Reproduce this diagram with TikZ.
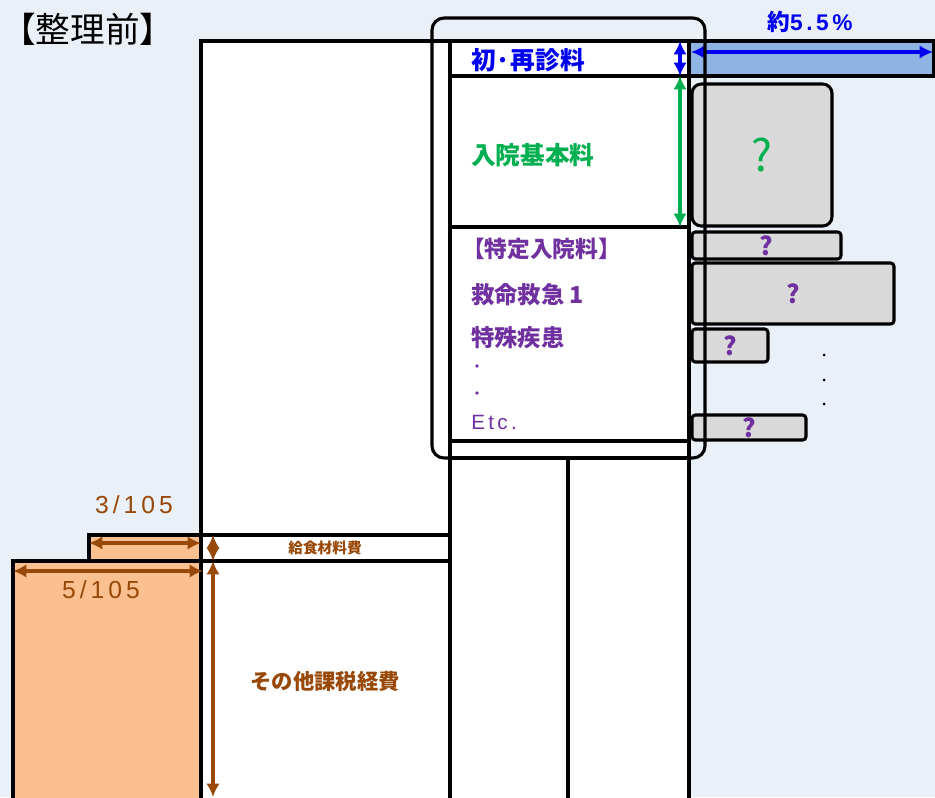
\documentclass[tikz,border=0pt]{standalone}
\usepackage{fontspec}
\setmainfont{Noto Sans CJK JP}
\newfontfamily\numfont[LetterSpace=16]{Liberation Sans}
\usetikzlibrary{arrows.meta,calc,positioning}
\definecolor{my_bg}{RGB}{234,240,248}
\definecolor{my_barblue}{RGB}{141,180,226}
\definecolor{my_blue}{RGB}{0,0,240}
\definecolor{my_green}{RGB}{0,176,80}
\definecolor{my_purple}{RGB}{112,48,160}
\definecolor{my_grey}{RGB}{217,217,217}
\definecolor{my_orange}{RGB}{250,192,144}
\definecolor{my_brown}{RGB}{152,72,7}
\tikzset{
  box/.style = {draw=black, line width=2.3pt},
  qbox/.style = {box, fill=my_grey, rounded corners=2.5pt},
  dimarrow/.style = {line width=3pt, {Latex[length=10pt,width=10pt]}-{Latex[length=10pt,width=10pt]}},
  lbl/.style = {inner sep=0pt, anchor=west, font=\bfseries\fontsize{18.5}{18.5}\selectfont},
  qmark/.style = {inner sep=0pt, text=my_purple, font=\bfseries\fontsize{19}{19}\selectfont}
}

\begin{document}
\begin{tikzpicture}[x=0.75pt, y=-0.75pt]
  \useasboundingbox (0,0) rectangle (935,797);
  \clip (0,0) rectangle (935,797);
  \fill[my_bg] (0,0) rectangle (935,797);

  % title
  \node (title) [inner sep=0pt, anchor=west, font=\fontsize{26}{26}\selectfont] at (1,29) {【整理前】};

  % columns
  \draw[box, fill=white] (201,41) rectangle (450,810);
  \draw[box, fill=white] (450,41) rectangle (689,810);
  \draw[box] (450,76) -- (689,76);
  \draw[box] (450,227) -- (689,227);
  \draw[box] (450,441) -- (689,441);
  \draw[box] (450,458) -- (689,458);
  \draw[box] (568,458) -- (568,810);

  % 5.5% bar
  \draw[box, fill=my_barblue] (689,41) rectangle (934,76);
  \coordinate (bl) at (691,52);
  \coordinate (br) at (933,52);
  \draw[dimarrow, my_blue] (bl) -- (br);
  \node (pct) [inner sep=0pt, text=my_blue, font=\bfseries\fontsize{17}{17}\selectfont] at (810,22) {約{\numfont\bfseries 5.5\%}};

  % rows of the middle column
  \coordinate (r0) at (680,41);
  \coordinate (r1) at (680,76);
  \coordinate (r2) at (680,227);
  \draw[dimarrow, my_blue] (r0) -- (r1);
  \draw[dimarrow, my_green] (r1) -- (r2);
  \node (shosai) [lbl, text=my_blue] at (471,60) {初·再診料};
  \node (kihon) [lbl, text=my_green] at (471,155) {入院基本料};
  \node (tokutei) [lbl, text=my_purple, font=\bfseries\fontsize{17}{17}\selectfont] at (462,249) {【特定入院料】};
  \node (kyumei) [lbl, text=my_purple, font=\bfseries\fontsize{17.5}{17.5}\selectfont] at (471,295) {救命救急 1};
  \node (tokushu) [lbl, text=my_purple, font=\bfseries\fontsize{17.5}{17.5}\selectfont] at (471,338) {特殊疾患};
  \fill[my_purple] (477,366) circle (1.8);
  \fill[my_purple] (477,393) circle (1.8);
  \node (etc) [lbl, text=my_purple, font=\numfont\fontsize{15.5}{15.5}\selectfont] at (471,422) {Etc.};

  % unknown amounts
  \draw[qbox, rounded corners=7pt] (692,84) rectangle node (q0) [inner sep=0pt, text=my_green, font=\fontsize{33}{33}\selectfont] {?} (832,226);
  \draw[qbox] (692,232) rectangle node (q1) [qmark] {?} (841,259);
  \draw[qbox] (692,263) rectangle node (q2) [qmark] {?} (894,324);
  \draw[qbox] (692,329) rectangle node (q3) [qmark] {?} (768,362);
  \draw[qbox] (692,415) rectangle node (q4) [qmark] {?} (806,440);
  \foreach \y in {355,380,404}
    \fill (824,\y) circle (1.5);

  % frame round the fee rows
  \draw[box, rounded corners=9pt] (432,18) rectangle (705,458);

  % taxed costs
  \draw[box, fill=my_orange] (89,535) rectangle (201,561);
  \draw[box, fill=my_orange] (13,561) rectangle (201,810);
  \draw[box] (201,535) -- (450,535);
  \draw[box] (201,561) -- (450,561);
  \coordinate (s0) at (89,543);
  \coordinate (s1) at (201,543);
  \coordinate (b0) at (13,571);
  \coordinate (b1) at (203,571);
  \coordinate (v0) at (213,535);
  \coordinate (v1) at (213,561);
  \coordinate (v2) at (213,797);
  \draw[dimarrow, my_brown] (s0) -- (s1);
  \draw[dimarrow, my_brown] (b0) -- (b1);
  \draw[dimarrow, my_brown] (v0) -- (v1);
  \draw[dimarrow, my_brown] (v1) -- (v2);
  \node (kyushoku) [inner sep=0pt, text=my_brown, font=\bfseries\fontsize{11}{11}\selectfont] at (325,548) {給食材料費};
  \node (sonota) [inner sep=0pt, text=my_brown, font=\bfseries\fontsize{16}{16}\selectfont] at (325,681) {その他課税経費};
  \node (r3) [inner sep=0pt, text=my_brown, font=\numfont\fontsize{18.5}{18.5}\selectfont] at (134,505) {3/105};
  \node (r5) [inner sep=0pt, text=my_brown, font=\numfont\fontsize{18.5}{18.5}\selectfont] at (101,590) {5/105};
\end{tikzpicture}
\end{document}
